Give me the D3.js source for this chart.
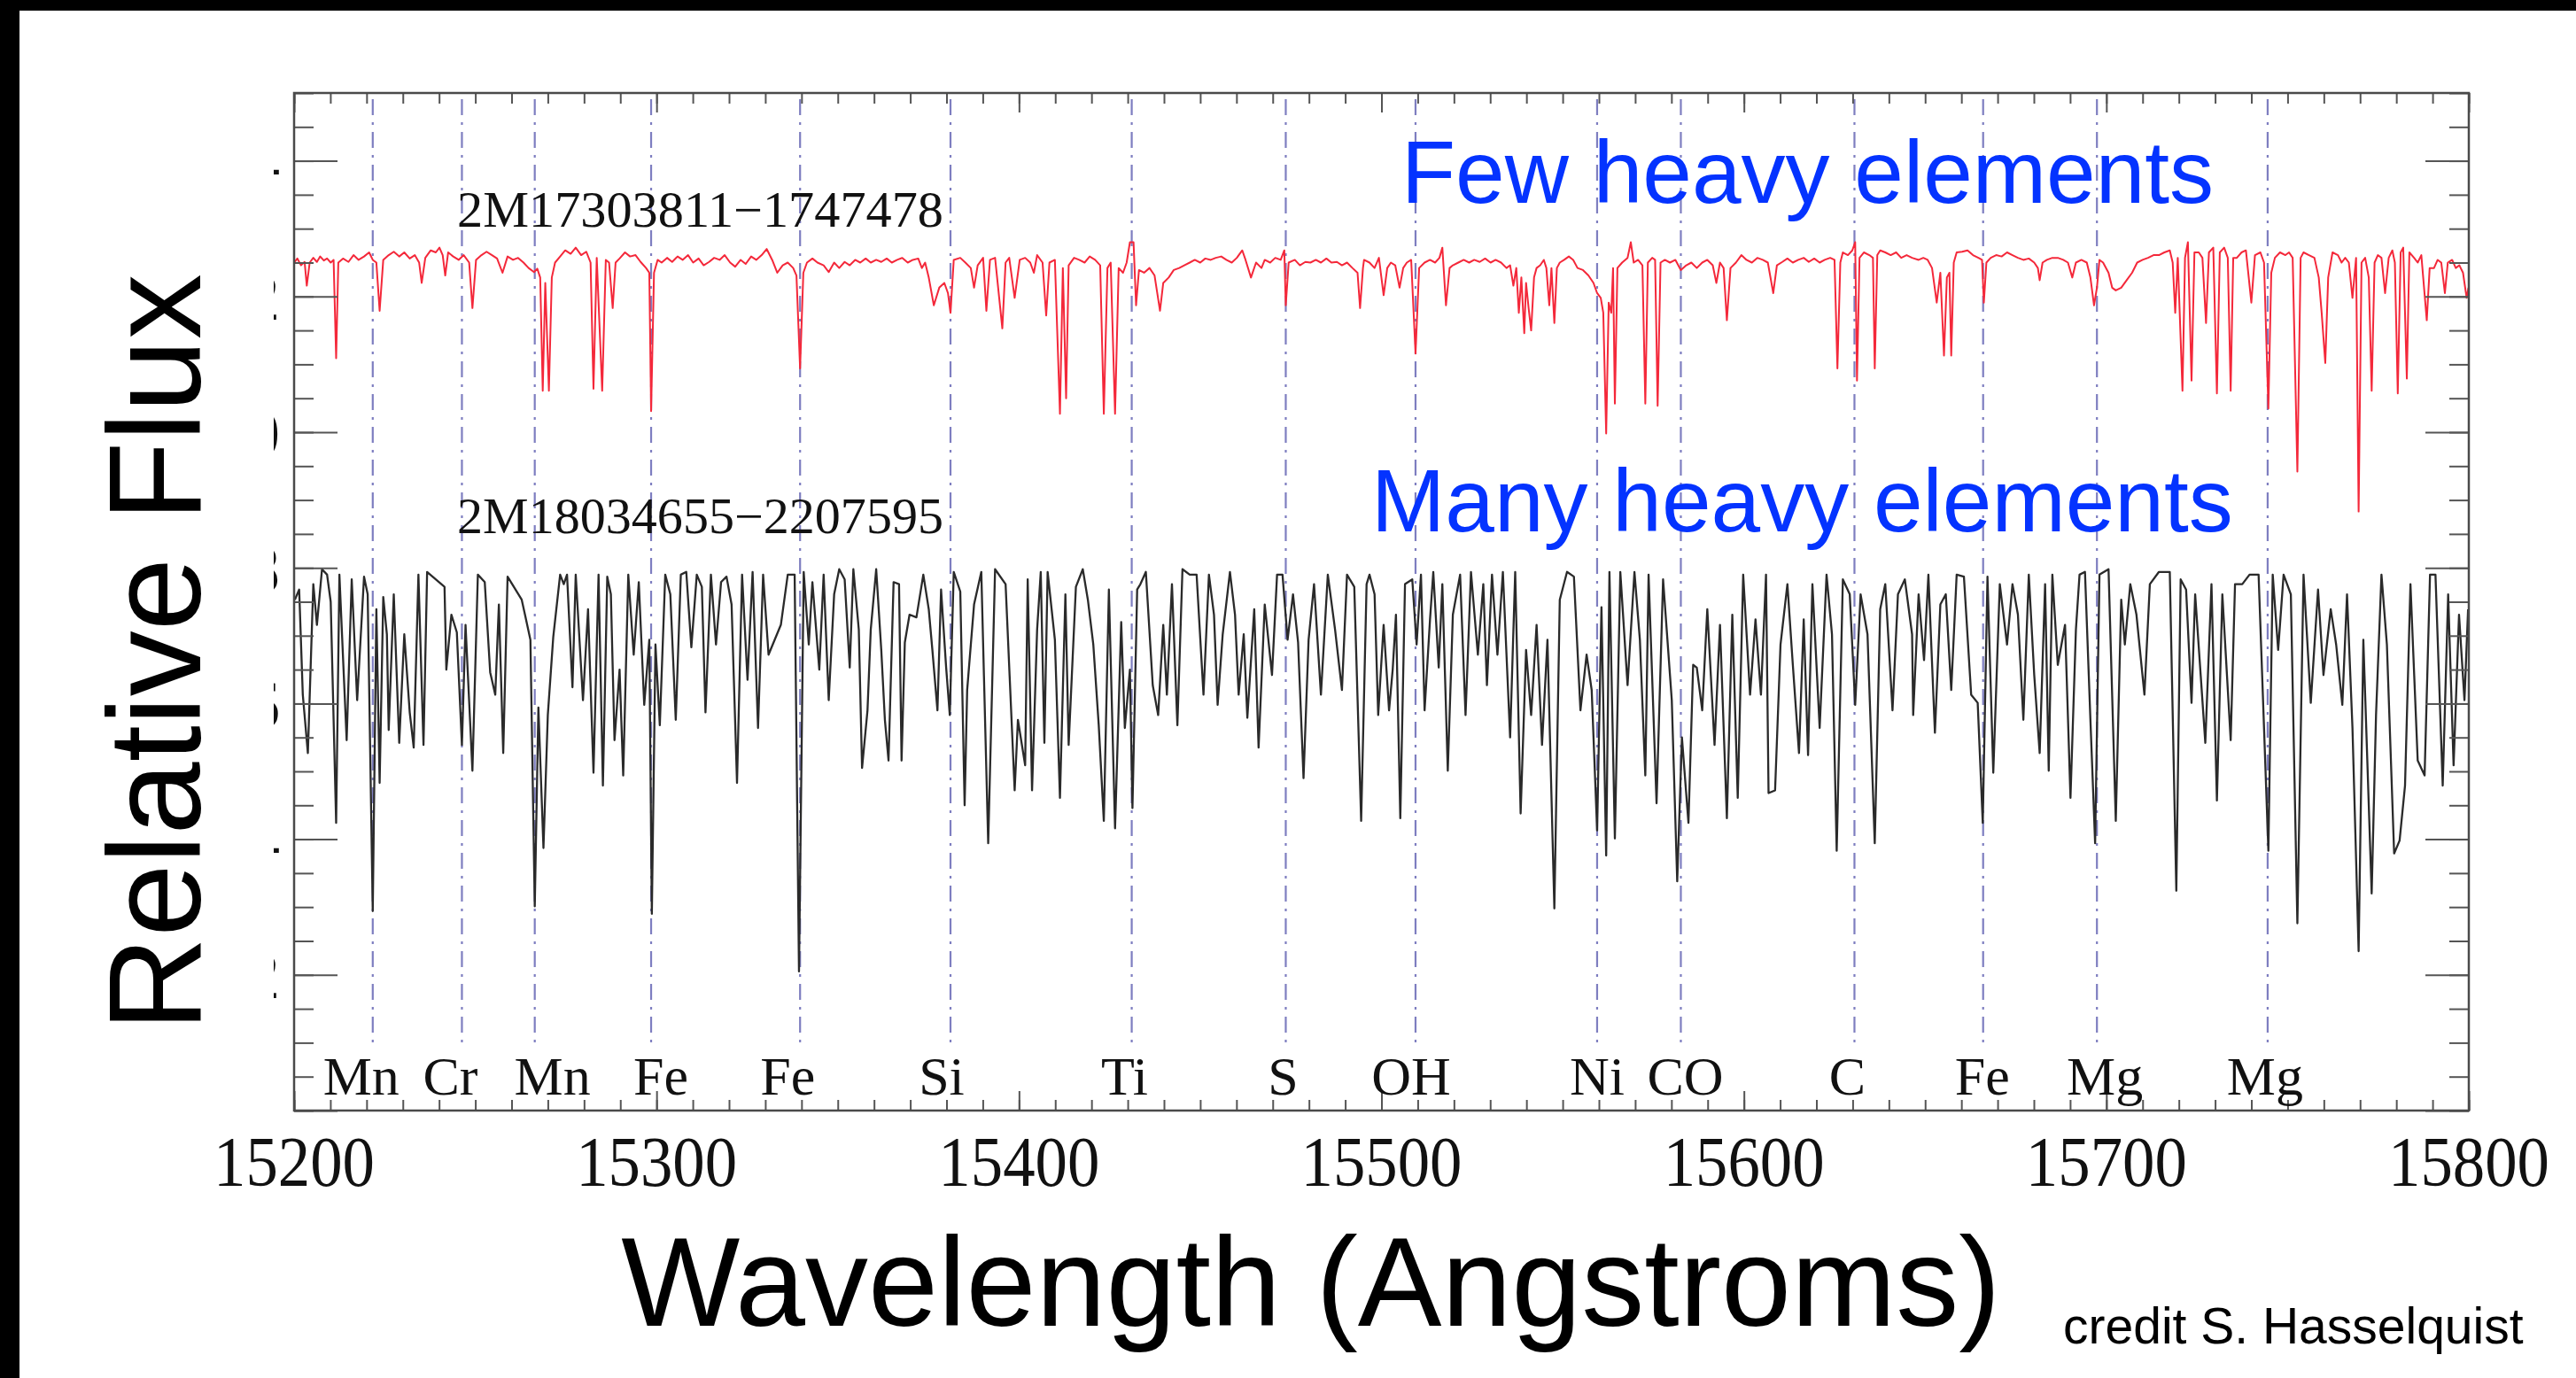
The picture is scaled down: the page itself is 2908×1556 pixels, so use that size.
<!DOCTYPE html>
<html>
<head>
<meta charset="utf-8">
<script src="https://cdn.jsdelivr.net/npm/d3@7"></script>
<style>
  html, body { margin: 0; padding: 0; background: #fff; }
  svg { display: block; }
</style>
</head>
<body>
<div id="chart"></div>
<script>
const width = 2908;
const height = 1556;
const box = { left: 332, right: 2787, top: 105, bottom: 1254 };

// axes
const xDomain = [15200, 15800];
const yDomain = [0, 1.5];
const xTickLabels = [15200, 15300, 15400, 15500, 15600, 15700, 15800];
const yTickLabels = [0.2, 0.4, 0.6, 0.8, 1.0, 1.2, 1.4];

// element markers (Angstroms)
const elementLines = [15221.7, 15246.3, 15266.4, 15298.5, 15339.6, 15381.1, 15431.1, 15473.6,
  15509.4, 15559.5, 15582.6, 15630.5, 15666.0, 15697.4, 15744.5];
const elementNames = ["Mn", "Cr", "Mn", "Fe", "Fe", "Si", "Ti", "S",
  "OH", "Ni", "CO", "C", "Fe", "Mg", "Mg"];
// horizontal nudge of each label from its line, px
const labelNudge = [-13, -13, 20, 11, -14, -10, -8, -3, -5, 0, 5, -8, -1, 9, -3];

const starNames = ["2M17303811\u22121747478", "2M18034655\u22122207595"];
const notes = ["Few heavy elements", "Many heavy elements"];

// [wavelength, relative flux]
const redSpectrum = [
[15200.0,1.250],[15200.9,1.256],[15201.9,1.246],[15202.9,1.251],[15203.5,1.216],[15204.3,1.250],[15205.3,1.257],[15206.3,1.251],[15207.2,1.259],[15208.2,1.253],
[15209.1,1.256],[15210.1,1.250],[15210.9,1.254],[15211.6,1.109],[15212.2,1.250],[15213.5,1.256],[15215.0,1.251],[15216.4,1.261],[15217.8,1.254],[15219.3,1.259],
[15220.7,1.265],[15221.7,1.254],[15222.7,1.250],[15223.6,1.179],[15224.6,1.254],[15226.1,1.261],[15227.5,1.266],[15229.0,1.259],[15230.4,1.265],[15231.9,1.256],
[15233.3,1.261],[15234.5,1.250],[15235.2,1.220],[15236.2,1.257],[15237.7,1.268],[15239.1,1.265],[15240.1,1.272],[15241.0,1.261],[15241.7,1.231],[15242.5,1.265],
[15243.9,1.259],[15245.4,1.254],[15246.8,1.261],[15248.3,1.250],[15249.2,1.183],[15250.2,1.254],[15251.7,1.261],[15253.1,1.266],[15254.6,1.261],[15256.0,1.256],
[15257.5,1.235],[15258.9,1.259],[15260.4,1.254],[15261.8,1.257],[15263.3,1.250],[15264.7,1.242],[15266.2,1.236],[15267.1,1.241],[15267.9,1.228],[15268.6,1.061],
[15269.3,1.220],[15270.3,1.061],[15271.1,1.228],[15272.0,1.250],[15273.4,1.259],[15274.8,1.268],[15276.3,1.263],[15277.7,1.272],[15279.2,1.261],[15280.6,1.266],
[15281.8,1.250],[15282.6,1.064],[15283.5,1.257],[15285.0,1.061],[15286.0,1.254],[15286.9,1.250],[15287.9,1.183],[15288.7,1.250],[15289.8,1.256],[15291.3,1.265],
[15292.7,1.259],[15294.2,1.261],[15295.6,1.251],[15297.1,1.242],[15298.0,1.235],[15298.5,1.031],[15299.3,1.235],[15300.3,1.254],[15301.4,1.250],[15302.9,1.257],
[15304.3,1.251],[15305.8,1.259],[15307.2,1.254],[15308.7,1.261],[15310.1,1.250],[15311.6,1.256],[15313.0,1.246],[15314.5,1.251],[15315.9,1.257],[15317.4,1.254],
[15318.8,1.261],[15320.3,1.250],[15321.7,1.244],[15323.2,1.254],[15324.6,1.248],[15326.1,1.259],[15327.5,1.254],[15329.0,1.261],[15330.4,1.270],[15331.9,1.254],
[15333.3,1.235],[15334.8,1.246],[15336.2,1.250],[15337.7,1.242],[15338.6,1.231],[15339.6,1.094],[15340.5,1.235],[15341.5,1.250],[15343.0,1.256],[15344.4,1.250],
[15346.1,1.246],[15347.5,1.236],[15349.0,1.250],[15350.4,1.242],[15351.9,1.251],[15353.3,1.246],[15354.8,1.254],[15356.2,1.250],[15357.7,1.256],[15359.1,1.250],
[15360.6,1.254],[15362.0,1.251],[15363.5,1.256],[15364.9,1.250],[15366.4,1.254],[15367.8,1.257],[15369.3,1.250],[15370.7,1.254],[15372.2,1.256],[15373.2,1.242],
[15374.1,1.250],[15375.1,1.228],[15376.5,1.187],[15378.0,1.213],[15379.4,1.220],[15380.4,1.205],[15381.1,1.176],[15382.0,1.254],[15383.8,1.257],[15385.2,1.250],
[15386.7,1.242],[15387.6,1.213],[15388.6,1.246],[15390.1,1.257],[15391.0,1.179],[15392.0,1.254],[15393.4,1.257],[15395.4,1.153],[15396.3,1.250],[15397.3,1.257],
[15398.8,1.198],[15400.2,1.254],[15401.7,1.257],[15403.1,1.250],[15404.1,1.235],[15405.0,1.261],[15406.5,1.250],[15407.5,1.172],[15408.4,1.250],[15409.9,1.254],
[15411.3,1.027],[15412.1,1.242],[15413.0,1.050],[15413.7,1.246],[15415.2,1.257],[15416.6,1.254],[15418.1,1.250],[15419.5,1.259],[15421.0,1.254],[15422.4,1.246],
[15423.4,1.027],[15424.4,1.242],[15425.3,1.250],[15426.5,1.027],[15427.5,1.242],[15428.7,1.235],[15429.7,1.250],[15430.6,1.280],[15431.6,1.280],[15432.3,1.187],
[15433.1,1.239],[15434.5,1.235],[15436.0,1.242],[15437.4,1.231],[15438.9,1.179],[15439.8,1.220],[15441.3,1.228],[15442.7,1.239],[15444.2,1.242],[15445.6,1.246],
[15447.1,1.250],[15448.5,1.254],[15450.0,1.250],[15451.4,1.256],[15452.9,1.254],[15454.3,1.257],[15455.8,1.259],[15457.2,1.254],[15458.7,1.250],[15460.1,1.257],
[15461.6,1.268],[15462.5,1.254],[15464.0,1.228],[15465.4,1.250],[15466.9,1.242],[15467.8,1.254],[15469.3,1.250],[15470.7,1.257],[15472.2,1.254],[15473.2,1.268],
[15473.6,1.187],[15474.4,1.250],[15476.1,1.254],[15477.5,1.246],[15479.0,1.251],[15480.4,1.250],[15481.9,1.254],[15483.3,1.250],[15484.8,1.256],[15486.2,1.250],
[15487.7,1.251],[15489.1,1.246],[15490.5,1.250],[15492.0,1.242],[15493.4,1.235],[15494.1,1.183],[15494.9,1.242],
[15495.2,1.254],[15496.7,1.250],[15498.1,1.242],[15499.3,1.257],[15500.6,1.202],[15501.6,1.242],[15502.6,1.250],[15503.8,1.246],[15505.0,1.213],[15506.0,1.242],
[15507.0,1.250],[15508.2,1.254],[15509.4,1.116],[15510.4,1.242],[15511.9,1.250],[15513.4,1.254],[15514.8,1.250],[15516.0,1.257],[15516.8,1.272],[15517.8,1.187],
[15518.8,1.242],[15519.7,1.246],[15521.2,1.250],[15522.7,1.254],[15524.2,1.250],[15525.6,1.254],[15527.1,1.251],[15528.6,1.256],[15530.1,1.250],[15531.5,1.254],
[15533.0,1.250],[15534.5,1.242],[15535.5,1.246],[15536.4,1.216],[15537.2,1.242],[15537.9,1.176],[15538.6,1.228],[15539.4,1.146],[15539.9,1.220],[15540.6,1.183],
[15541.3,1.150],[15542.1,1.228],[15542.8,1.242],[15543.8,1.246],[15544.8,1.254],[15545.5,1.242],[15546.3,1.187],[15546.9,1.242],[15547.7,1.161],[15548.4,1.242],
[15549.2,1.250],[15550.4,1.254],[15551.7,1.259],[15552.9,1.254],[15554.1,1.242],[15555.6,1.239],[15557.1,1.231],[15558.5,1.220],[15559.5,1.205],[15560.5,1.198],
[15561.2,1.176],[15562.0,0.998],[15562.7,1.191],[15563.4,1.176],[15563.9,1.242],[15564.4,1.042],[15565.1,1.242],[15566.4,1.250],[15567.9,1.257],[15568.8,1.280],
[15569.6,1.250],[15570.8,1.254],[15572.0,1.246],[15572.8,1.042],[15573.5,1.250],[15574.7,1.257],[15575.5,1.254],[15576.2,1.039],[15577.0,1.250],[15578.2,1.254],
[15579.6,1.250],[15581.1,1.254],[15582.6,1.239],[15584.1,1.246],[15585.5,1.250],[15587.0,1.242],[15588.5,1.250],[15589.9,1.254],[15591.4,1.246],[15592.4,1.220],
[15593.4,1.250],[15594.4,1.242],[15595.3,1.165],[15596.3,1.242],[15597.8,1.250],[15599.3,1.261],[15600.7,1.254],[15602.2,1.250],[15603.7,1.257],[15605.2,1.254],
[15606.6,1.250],[15608.1,1.205],[15609.1,1.246],[15610.6,1.251],[15612.0,1.256],[15613.5,1.250],[15615.0,1.254],[15616.5,1.257],[15617.9,1.251],[15619.4,1.256],
[15620.9,1.250],[15622.3,1.254],[15623.8,1.257],[15625.0,1.254],[15625.8,1.094],[15626.6,1.250],[15627.3,1.265],[15628.7,1.261],[15629.9,1.268],[15630.7,1.280],
[15631.2,1.076],[15631.9,1.257],[15633.1,1.265],[15634.6,1.261],[15635.6,1.257],[15636.1,1.094],[15636.8,1.261],[15637.6,1.268],[15639.0,1.265],[15640.5,1.261],
[15642.0,1.265],[15643.4,1.257],[15644.9,1.261],[15646.4,1.257],
[15648.2,1.254],[15649.5,1.257],[15650.7,1.254],[15651.9,1.242],[15653.2,1.191],[15654.2,1.235],[15655.2,1.113],[15656.0,1.228],[15656.7,1.235],[15657.2,1.113],
[15657.9,1.250],[15658.7,1.265],[15660.2,1.266],[15661.7,1.268],[15663.2,1.261],[15664.7,1.257],[15665.7,1.254],[15666.2,1.191],[15666.9,1.250],[15668.1,1.257],
[15669.6,1.261],[15671.1,1.259],[15672.6,1.265],[15674.1,1.261],[15675.6,1.257],[15677.1,1.254],[15678.6,1.256],[15680.1,1.250],[15681.1,1.242],[15681.6,1.224],
[15682.4,1.250],[15683.6,1.254],[15685.1,1.257],[15686.6,1.257],[15688.1,1.254],[15689.4,1.250],[15690.6,1.228],[15691.6,1.250],[15693.1,1.254],[15694.6,1.250],
[15695.6,1.228],[15696.6,1.187],[15697.4,1.213],[15698.1,1.254],[15699.1,1.250],[15700.6,1.235],[15701.6,1.213],[15702.6,1.209],[15704.1,1.213],[15705.6,1.224],
[15707.1,1.235],[15708.5,1.250],[15710.0,1.254],[15711.5,1.257],[15713.0,1.261],[15714.5,1.261],[15716.0,1.265],[15717.5,1.268],[15718.3,1.250],[15719.0,1.176],
[15719.7,1.257],[15721.0,1.061],[15721.7,1.257],[15722.5,1.280],[15723.5,1.076],[15724.3,1.265],[15725.5,1.265],[15726.5,1.257],[15727.5,1.161],[15728.3,1.265],
[15729.5,1.272],[15730.5,1.057],[15731.3,1.265],[15732.5,1.272],[15733.5,1.257],[15734.3,1.061],[15735.0,1.257],[15736.0,1.257],[15737.3,1.265],[15738.5,1.268],
[15740.0,1.191],[15741.0,1.261],[15742.5,1.265],[15743.5,1.250],[15744.7,1.035],[15745.5,1.235],[15746.5,1.257],[15747.9,1.265],[15749.4,1.261],[15750.4,1.265],
[15751.4,1.257],[15752.7,0.942],[15753.6,1.257],[15754.4,1.265],[15755.9,1.261],[15757.4,1.257],[15758.6,1.228],[15759.4,1.176],[15760.4,1.102],[15761.2,1.228],
[15762.4,1.265],[15763.9,1.261],[15764.9,1.250],[15765.9,1.257],[15766.9,1.250],[15767.9,1.198],[15768.9,1.257],[15769.6,0.883],[15770.4,1.250],[15771.4,1.257],
[15772.4,1.228],[15773.2,1.061],[15774.0,1.250],[15774.9,1.261],[15775.9,1.257],[15776.9,1.205],[15777.9,1.257],[15778.9,1.268],[15779.6,1.250],[15780.4,1.057],
[15781.2,1.265],[15781.9,1.272],[15782.9,1.079],[15783.6,1.265],[15784.9,1.257],[15785.9,1.250],[15786.9,1.261],[15788.4,1.165],[15789.2,1.242],[15790.4,1.242],
[15791.4,1.254],[15792.4,1.250],[15793.4,1.205],[15794.2,1.250],[15795.4,1.254],[15796.4,1.242],[15797.4,1.246],[15798.4,1.235],[15799.4,1.198],[15799.9,1.213]
];

const blackSpectrum = [
[15200.2,0.753],[15201.4,0.768],[15202.4,0.613],[15203.8,0.527],[15205.3,0.776],[15206.3,0.716],[15207.7,0.798],[15209.1,0.790],[15210.1,0.750],[15211.6,0.424],
[15212.5,0.790],[15214.5,0.546],[15215.9,0.783],[15217.4,0.605],[15219.3,0.787],[15220.3,0.761],[15221.7,0.294],[15222.7,0.739],[15223.6,0.483],[15224.6,0.757],
[15225.6,0.702],[15226.1,0.561],[15227.5,0.761],[15229.0,0.542],[15230.4,0.702],[15231.9,0.587],[15233.0,0.535],[15234.3,0.790],[15235.7,0.539],[15236.7,0.794],
[15241.5,0.772],[15242.0,0.650],[15243.4,0.731],[15244.9,0.705],[15246.3,0.539],[15247.3,0.716],[15249.2,0.501],[15250.7,0.790],[15252.6,0.779],[15254.1,0.646],
[15255.5,0.613],[15256.5,0.746],[15257.7,0.527],[15258.9,0.787],[15262.8,0.753],[15263.7,0.731],[15265.2,0.694],[15266.4,0.301],[15267.4,0.594],[15268.8,0.387],
[15270.0,0.583],[15271.5,0.698],[15273.4,0.790],[15274.4,0.776],[15275.3,0.790],[15276.8,0.624],[15277.7,0.790],[15279.7,0.605],[15281.1,0.739],[15282.6,0.498],
[15284.0,0.790],[15285.2,0.479],[15286.4,0.787],[15287.4,0.761],[15288.4,0.546],[15289.8,0.650],[15290.8,0.494],[15292.2,0.790],[15293.7,0.672],[15295.1,0.779],
[15296.6,0.598],[15298.0,0.694],[15298.7,0.290],[15299.7,0.687],[15300.9,0.568],[15302.4,0.790],[15303.8,0.761],[15305.3,0.576],[15306.7,0.790],[15308.2,0.794],
[15309.6,0.683],[15311.1,0.790],[15312.5,0.772],[15313.5,0.587],[15315.0,0.790],[15316.4,0.687],[15317.8,0.779],[15319.3,0.787],[15320.7,0.746],[15322.2,0.483],
[15323.6,0.790],[15325.1,0.635],[15326.5,0.794],[15328.0,0.564],[15329.4,0.790],[15330.9,0.672],[15334.3,0.716],[15336.2,0.790],[15338.1,0.790],[15339.3,0.205],
[15340.6,0.794],[15342.0,0.687],[15343.0,0.779],[15344.9,0.650],
[15346.1,0.790],[15347.5,0.605],[15349.0,0.761],[15350.4,0.798],[15351.9,0.783],[15353.3,0.653],[15354.3,0.798],[15355.8,0.709],[15356.7,0.505],[15358.2,0.590],
[15359.1,0.709],[15360.6,0.798],[15362.0,0.679],[15363.0,0.576],[15364.0,0.516],[15365.4,0.779],[15366.9,0.776],[15367.6,0.516],[15368.5,0.690],[15369.8,0.731],
[15371.7,0.727],[15373.6,0.790],[15375.1,0.739],[15376.1,0.679],[15377.5,0.590],[15378.5,0.768],[15379.9,0.653],[15380.9,0.583],[15382.0,0.794],[15383.8,0.765],
[15385.0,0.450],[15385.7,0.620],[15387.6,0.746],[15389.6,0.794],[15391.5,0.394],[15393.4,0.798],[15396.3,0.776],[15398.8,0.472],[15399.7,0.576],[15401.7,0.509],
[15402.4,0.783],[15403.6,0.472],[15405.0,0.709],[15406.0,0.794],[15407.0,0.542],[15407.9,0.794],[15409.9,0.694],[15411.3,0.461],[15412.8,0.761],[15413.7,0.539],
[15415.7,0.772],[15417.6,0.798],[15419.0,0.753],[15420.5,0.687],[15422.0,0.568],[15423.4,0.427],[15424.8,0.768],[15426.5,0.416],[15428.2,0.720],[15429.2,0.564],
[15430.6,0.650],[15431.3,0.446],[15432.6,0.768],[15433.5,0.776],[15435.0,0.794],[15436.9,0.627],[15438.4,0.583],[15439.8,0.716],[15440.8,0.613],[15442.2,0.776],
[15443.7,0.568],[15445.1,0.798],[15447.1,0.790],[15449.0,0.790],[15450.9,0.613],[15452.4,0.790],[15453.8,0.731],[15454.8,0.598],[15456.2,0.702],[15458.2,0.794],
[15459.6,0.731],[15460.6,0.613],[15462.0,0.702],[15463.0,0.579],[15464.9,0.739],[15466.1,0.535],[15467.8,0.746],[15469.8,0.642],[15471.2,0.790],[15472.7,0.790],
[15474.1,0.694],[15475.6,0.761],[15477.0,0.690],[15478.5,0.490],[15479.9,0.694],[15481.4,0.776],[15483.3,0.613],[15485.2,0.790],[15487.2,0.709],[15489.1,0.620],
[15490.5,0.790],[15492.5,0.772],[15494.4,0.427],[15495.9,0.776],
[15496.7,0.790],[15498.1,0.761],[15499.1,0.583],[15500.6,0.716],[15502.1,0.590],[15503.1,0.650],[15504.0,0.731],[15505.2,0.431],[15506.5,0.776],[15508.5,0.783],
[15509.7,0.687],[15510.9,0.790],[15511.9,0.590],[15513.4,0.724],[15514.3,0.794],[15515.8,0.653],[15516.8,0.776],[15518.3,0.501],[15519.7,0.731],[15521.7,0.790],
[15523.2,0.583],[15524.7,0.794],[15526.6,0.672],[15528.1,0.776],[15529.1,0.627],[15530.5,0.790],[15532.0,0.672],[15533.5,0.794],[15535.5,0.550],[15536.9,0.794],
[15538.4,0.438],[15539.9,0.679],[15541.3,0.583],[15542.8,0.716],[15544.3,0.539],[15545.8,0.694],[15547.7,0.298],[15549.2,0.753],[15551.2,0.794],[15553.1,0.787],
[15554.9,0.590],[15556.6,0.672],[15558.0,0.620],[15559.5,0.413],[15560.7,0.742],[15562.0,0.376],[15562.9,0.794],[15564.4,0.401],[15565.9,0.794],[15567.9,0.627],
[15569.8,0.794],[15571.3,0.694],[15572.8,0.494],[15573.7,0.790],[15575.9,0.453],[15577.7,0.783],[15580.1,0.605],[15581.6,0.338],[15582.9,0.550],[15584.7,0.424],
[15586.0,0.657],[15587.0,0.653],[15588.5,0.590],[15589.9,0.739],[15591.9,0.539],[15593.4,0.716],[15595.3,0.431],[15596.8,0.731],[15598.3,0.461],[15599.8,0.790],
[15601.7,0.613],[15603.2,0.724],[15604.7,0.613],[15606.1,0.790],[15606.8,0.468],[15608.6,0.472],[15610.1,0.687],[15612.0,0.776],[15613.5,0.657],[15615.2,0.527],
[15616.5,0.724],[15617.7,0.524],[15618.9,0.776],[15620.9,0.564],[15622.8,0.790],[15624.3,0.702],[15625.6,0.383],[15627.3,0.783],[15629.2,0.761],[15630.7,0.598],
[15632.2,0.761],[15634.1,0.702],[15636.1,0.394],[15637.6,0.739],[15639.0,0.776],[15641.0,0.590],[15642.5,0.761],[15644.4,0.783],[15646.4,0.702],
[15646.7,0.583],[15648.2,0.761],[15649.7,0.664],[15650.9,0.790],[15652.7,0.557],[15654.2,0.746],[15655.7,0.761],[15657.2,0.620],[15658.7,0.790],[15660.7,0.787],
[15662.7,0.613],[15664.5,0.601],[15665.9,0.424],[15667.2,0.787],[15668.8,0.498],[15670.6,0.776],[15672.6,0.687],[15674.1,0.776],[15675.6,0.731],[15677.1,0.576],
[15678.6,0.790],[15680.1,0.642],[15681.6,0.527],[15683.1,0.776],[15684.1,0.501],[15685.1,0.790],[15686.6,0.657],[15688.6,0.716],[15690.1,0.461],[15691.6,0.709],
[15692.6,0.790],[15694.1,0.794],[15695.6,0.576],[15696.9,0.394],[15698.1,0.790],[15700.6,0.798],[15702.6,0.427],[15704.1,0.753],[15705.1,0.687],[15706.6,0.776],
[15708.3,0.731],[15710.5,0.613],[15712.0,0.776],[15714.5,0.794],[15717.5,0.794],[15719.3,0.324],[15720.5,0.783],[15722.0,0.768],[15723.5,0.601],[15724.5,0.761],
[15727.3,0.542],[15729.0,0.776],[15730.5,0.457],[15732.0,0.761],[15734.3,0.546],[15735.5,0.776],[15737.5,0.776],[15739.5,0.790],[15742.0,0.790],[15744.7,0.383],
[15745.9,0.790],[15747.4,0.679],[15748.9,0.790],[15750.9,0.761],[15752.7,0.276],[15754.4,0.790],[15756.4,0.601],[15758.4,0.768],[15759.9,0.642],[15761.9,0.739],
[15763.4,0.687],[15765.1,0.598],[15766.4,0.761],[15767.9,0.564],[15769.6,0.235],[15770.9,0.694],[15773.2,0.320],[15774.4,0.583],[15775.9,0.790],[15777.4,0.687],
[15779.4,0.379],[15780.9,0.398],[15782.4,0.479],[15783.9,0.776],[15785.9,0.516],[15787.8,0.494],[15789.3,0.790],[15790.8,0.790],[15792.8,0.479],[15794.3,0.761],
[15795.8,0.509],[15797.3,0.731],[15798.8,0.605],[15799.8,0.739]
];

const svg = d3.select("#chart").append("svg")
  .attr("width", width)
  .attr("height", height)
  .attr("viewBox", `0 0 ${width} ${height}`);

svg.append("rect").attr("width", width).attr("height", height).attr("fill", "#fff");
// black slide edges
svg.append("rect").attr("x", 0).attr("y", 0).attr("width", width).attr("height", 12).attr("fill", "#000");
svg.append("rect").attr("x", 0).attr("y", 0).attr("width", 22).attr("height", height).attr("fill", "#000");

const x = d3.scaleLinear().domain(xDomain).range([box.left, box.right]);
const y = d3.scaleLinear().domain(yDomain).range([box.bottom, box.top]);

const serif = "'Liberation Serif', 'Times New Roman', serif";
const sans = "'Liberation Sans', Arial, Helvetica, sans-serif";

svg.append("clipPath").attr("id", "plot-clip")
  .append("rect")
  .attr("x", box.left).attr("y", box.top)
  .attr("width", box.right - box.left).attr("height", box.bottom - box.top);

// element marker lines
svg.append("g")
  .selectAll("line")
  .data(elementLines)
  .join("line")
  .attr("x1", d => x(d)).attr("x2", d => x(d))
  .attr("y1", box.top + 7).attr("y2", 1180)
  .attr("stroke", "#7e7ec0")
  .attr("stroke-width", 2.2)
  .attr("stroke-dasharray", "18,8,3,8");

// spectra
const line = d3.line().x(d => x(d[0])).y(d => y(d[1]));
const spectra = svg.append("g").attr("clip-path", "url(#plot-clip)");
spectra.append("path")
  .datum(redSpectrum)
  .attr("d", line)
  .attr("fill", "none")
  .attr("stroke", "#f4283a")
  .attr("stroke-width", 2)
  .attr("stroke-linejoin", "round");
spectra.append("path")
  .datum(blackSpectrum)
  .attr("d", line)
  .attr("fill", "none")
  .attr("stroke", "#2a2a2a")
  .attr("stroke-width", 2.3)
  .attr("stroke-linejoin", "round");

// ticks on all four sides, pointing inward
function styleAxis(g) {
  g.select(".domain").remove();
  g.selectAll(".tick line").attr("stroke", "#555").attr("stroke-width", 2);
  g.selectAll(".tick text").remove();
}
const xMinor = d3.range(15200, 15801, 10);
const yMinor = d3.range(0, 1.5001, 0.05);
const yMajor = d3.range(0, 1.5001, 0.2);

svg.append("g").attr("transform", `translate(0,${box.bottom})`)
  .call(d3.axisBottom(x).tickValues(xMinor).tickSize(-12)).call(styleAxis);
svg.append("g").attr("transform", `translate(0,${box.bottom})`)
  .call(d3.axisBottom(x).tickValues(xTickLabels).tickSize(-22)).call(styleAxis);
svg.append("g").attr("transform", `translate(0,${box.top})`)
  .call(d3.axisTop(x).tickValues(xMinor).tickSize(-12)).call(styleAxis);
svg.append("g").attr("transform", `translate(0,${box.top})`)
  .call(d3.axisTop(x).tickValues(xTickLabels).tickSize(-22)).call(styleAxis);
svg.append("g").attr("transform", `translate(${box.left},0)`)
  .call(d3.axisLeft(y).tickValues(yMinor).tickSize(-22)).call(styleAxis);
svg.append("g").attr("transform", `translate(${box.left},0)`)
  .call(d3.axisLeft(y).tickValues(yMajor).tickSize(-49)).call(styleAxis);
svg.append("g").attr("transform", `translate(${box.right},0)`)
  .call(d3.axisRight(y).tickValues(yMinor).tickSize(-22)).call(styleAxis);
svg.append("g").attr("transform", `translate(${box.right},0)`)
  .call(d3.axisRight(y).tickValues(yMajor).tickSize(-49)).call(styleAxis);

// frame
svg.append("rect")
  .attr("x", box.left).attr("y", box.top)
  .attr("width", box.right - box.left).attr("height", box.bottom - box.top)
  .attr("fill", "none").attr("stroke", "#4a4a4a").attr("stroke-width", 2.5);

// y tick labels: cropped away in the source, only slivers remain
svg.append("clipPath").attr("id", "ylab-clip")
  .append("rect").attr("x", 309).attr("y", 0).attr("width", 6).attr("height", height);
svg.append("g").attr("clip-path", "url(#ylab-clip)")
  .selectAll("text")
  .data(yTickLabels)
  .join("text")
  .attr("x", 316)
  .attr("y", d => y(d))
  .attr("dy", "0.35em")
  .attr("text-anchor", "end")
  .attr("font-family", serif)
  .attr("font-size", 76)
  .attr("fill", "#111")
  .text(d => d.toFixed(1));

// x tick labels
svg.append("g")
  .selectAll("text")
  .data(xTickLabels)
  .join("text")
  .attr("x", d => x(d) - 91)
  .attr("y", 1339)
  .attr("font-family", serif)
  .attr("font-size", 80)
  .attr("textLength", 182)
  .attr("lengthAdjust", "spacingAndGlyphs")
  .attr("fill", "#111")
  .text(d => d);

// element labels
svg.append("g")
  .selectAll("text")
  .data(elementNames)
  .join("text")
  .attr("x", (d, i) => x(elementLines[i]) + labelNudge[i])
  .attr("y", 1236)
  .attr("text-anchor", "middle")
  .attr("font-family", serif)
  .attr("font-size", 62)
  .attr("fill", "#111")
  .text(d => d);

// star ids
svg.append("g")
  .selectAll("text")
  .data(starNames)
  .join("text")
  .attr("x", 516)
  .attr("y", (d, i) => [256, 602][i])
  .attr("font-family", serif)
  .attr("font-size", 57)
  .attr("textLength", 549)
  .attr("lengthAdjust", "spacingAndGlyphs")
  .attr("fill", "#111")
  .text(d => d);

// blue annotations
svg.append("g")
  .selectAll("text")
  .data(notes)
  .join("text")
  .attr("x", (d, i) => [1582, 1548][i])
  .attr("y", (d, i) => [229, 600][i])
  .attr("font-family", sans)
  .attr("font-size", 100)
  .attr("fill", "#0433ff")
  .text(d => d);

// axis titles
svg.append("text")
  .attr("transform", "translate(226,737) rotate(-90)")
  .attr("text-anchor", "middle")
  .attr("font-family", sans)
  .attr("font-size", 148)
  .attr("fill", "#000")
  .text("Relative Flux");

svg.append("text")
  .attr("x", 1480).attr("y", 1497)
  .attr("text-anchor", "middle")
  .attr("font-family", sans)
  .attr("font-size", 142)
  .attr("fill", "#000")
  .text("Wavelength (Angstroms)");

svg.append("text")
  .attr("x", 2329).attr("y", 1517)
  .attr("font-family", sans)
  .attr("font-size", 57)
  .attr("fill", "#000")
  .text("credit S. Hasselquist");
</script>
</body>
</html>
